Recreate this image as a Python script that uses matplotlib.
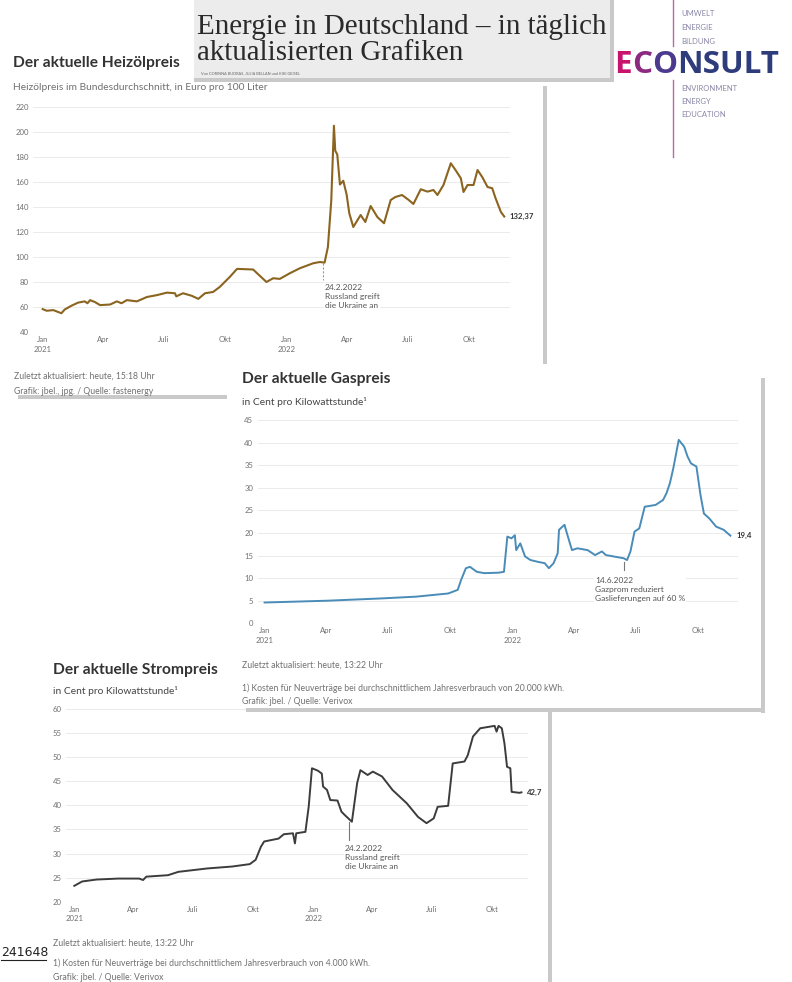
import matplotlib
matplotlib.use("Agg")
import matplotlib.pyplot as plt
from matplotlib.patches import Rectangle
import pandas as pd

W, H = 792, 982
BASE = pd.Timestamp("2021-01-01")

# Heizölpreis, Euro pro 100 Liter (days since 1.1.2021)
heizoel_day = [0, 6, 16, 28, 33, 43, 53, 63, 67, 71, 78, 86, 101, 111, 118, 126, 141,
               156, 171, 186, 198, 200, 210, 223, 233, 243, 255, 265, 280, 291, 315,
               335, 345, 355, 370, 385, 405, 415, 422, 427, 432, 436, 438, 441, 445,
               450, 455, 459, 465, 476, 483, 491, 501, 511, 521, 528, 538, 548, 555,
               566, 576, 585, 591, 600, 611, 618, 626, 630, 636, 645, 651, 658, 666,
               673, 678, 686, 691]
heizoel_val = [58.3, 57, 57.5, 55, 58, 61, 63.5, 64.5, 63, 65.5, 64, 61.5, 62, 64.5, 63,
               65.5, 64.5, 68, 69.5, 71.5, 71, 68.5, 71, 69, 66.5, 71, 72, 76, 84, 90.5,
               90, 80, 83, 82.5, 87, 91, 95, 96, 95.5, 108, 145, 205, 185, 182, 158,
               161, 150, 135, 124, 133.6, 128, 140.8, 132, 127, 145.6, 148, 149.6,
               145.6, 142.4, 154.2, 152.3, 153.6, 149.6, 157.6, 175, 169.6, 163, 152,
               157.6, 157.6, 169.6, 164, 156, 155, 147, 136, 132.37]

# Gaspreis, Cent pro kWh
gas_day = [0, 92, 171, 223, 270, 284, 289, 296, 302, 312, 323, 344, 352, 357, 363, 368,
           370, 376, 383, 391, 402, 412, 418, 425, 431, 433, 441, 446, 452, 460, 475,
           486, 496, 502, 528, 533, 538, 544, 551, 559, 575, 586, 591, 596, 601, 609,
           617, 622, 627, 635, 641, 646, 654, 664, 675, 685]
gas_val = [4.6, 5.0, 5.5, 5.9, 6.6, 7.4, 9.6, 12.2, 12.5, 11.4, 11.1, 11.2, 11.4, 19.2,
           18.8, 19.5, 16.2, 17.7, 14.8, 14.0, 13.6, 13.3, 12.2, 13.3, 15.5, 20.7, 21.8,
           19.2, 16.2, 16.6, 16.2, 15.1, 15.9, 15.1, 14.4, 14.0, 15.9, 20.3, 21.0, 25.8,
           26.2, 27.3, 28.8, 31.0, 34.3, 40.6, 39.1, 36.9, 35.4, 34.7, 28.4, 24.3, 23.2,
           21.4, 20.7, 19.4]

# Strompreis, Cent pro kWh
strom_day = [0, 12, 34, 67, 99, 105, 110, 143, 159, 203, 241, 268, 277, 285, 290, 301,
             312, 320, 334, 337, 339, 353, 358, 363, 372, 378, 380, 386, 391, 402, 408,
             413, 424, 432, 437, 448, 456, 470, 486, 508, 525, 538, 549, 555, 571, 578,
             596, 601, 609, 620, 642, 645, 648, 653, 657, 661, 666, 668, 680, 683]
strom_val = [23.3, 24.2, 24.6, 24.8, 24.8, 24.5, 25.2, 25.5, 26.2, 26.9, 27.3, 27.8, 28.7,
             31.4, 32.5, 32.8, 33.1, 34.0, 34.2, 32.1, 34.2, 34.5, 39.7, 47.7, 47.2, 46.6,
             43.9, 43.2, 41.1, 41.0, 38.7, 38.0, 36.6, 44.6, 47.3, 46.3, 47.0, 46.0, 43.2,
             40.4, 37.6, 36.3, 37.3, 39.7, 39.9, 48.7, 49.1, 50.4, 54.3, 56.0, 56.5, 55.3,
             56.5, 56.0, 52.9, 48.0, 47.7, 42.8, 42.6, 42.7]

tick_dates = ["2021-01-01", "2021-04-01", "2021-07-01", "2021-10-01",
              "2022-01-01", "2022-04-01", "2022-07-01", "2022-10-01"]
tick_labels = ["Jan\n2021", "Apr", "Juli", "Okt", "Jan\n2022", "Apr", "Juli", "Okt"]
tick_days = [(pd.Timestamp(d) - BASE).days for d in tick_dates]
invasion_day = (pd.Timestamp("2022-02-24") - BASE).days
gazprom_day = (pd.Timestamp("2022-06-14") - BASE).days

SANS = ["Lato", "DejaVu Sans"]
GREY = "#707070"
SHADOW = "#c9c9c9"
TITLE = 11.2
SUB = 7.4
FOOT = 6.2
NOTE = 6.0

fig = plt.figure(figsize=(W / 100, H / 100), dpi=100)


def layer(z):
    ax = fig.add_axes([0, 0, 1, 1], zorder=z)
    ax.set_xlim(0, W)
    ax.set_ylim(H, 0)
    ax.axis("off")
    ax.patch.set_visible(False)
    return ax


def chart(x0, y0, x1, y1, z, xlim, ylim, yticks):
    ax = fig.add_axes([x0 / W, 1 - y1 / H, (x1 - x0) / W, (y1 - y0) / H], zorder=z)
    ax.set_xlim(*xlim)
    ax.set_ylim(*ylim)
    ax.patch.set_visible(False)
    for s in ax.spines.values():
        s.set_visible(False)
    ax.set_yticks(yticks)
    ax.set_yticklabels([str(t) for t in yticks])
    for t in yticks:
        ax.axhline(t, color="#ebebeb", lw=0.7, zorder=0)
    ax.set_xticks(tick_days)
    ax.set_xticklabels(tick_labels)
    ax.tick_params(length=0, labelsize=5.6, labelcolor=GREY, pad=3)
    for lab in ax.get_xticklabels() + ax.get_yticklabels():
        lab.set_family(SANS)
    for lab in ax.get_xticklabels():
        lab.set_linespacing(1.4)
    return ax


def txt(ax, x, y, s, size=FOOT, color=GREY, weight="normal"):
    ax.text(x, y, s, fontsize=size, color=color, fontweight=weight,
            family=SANS, va="center", ha="left")


def note(ax, lay, x, y, s):
    # annotation drawn inside the chart (above its gridlines), placed in pixel coords
    ax.text(x, y, s, fontsize=NOTE, color="#555555", family=SANS, transform=lay.transData,
            va="top", ha="left", linespacing=1.35, zorder=5, clip_on=False,
            bbox=dict(facecolor="white", edgecolor="none", pad=0.5))


# ---------------- Heizöl panel ----------------
L1 = layer(1)
L1.add_patch(Rectangle((543, 86), 4, 290, color=SHADOW, lw=0))
L1.add_patch(Rectangle((18, 395), 230, 4, color=SHADOW, lw=0))
txt(L1, 13, 63, "Der aktuelle Heizölpreis", size=TITLE, color="#333333", weight="bold")
txt(L1, 13, 87, "Heizölpreis im Bundesdurchschnitt, in Euro pro 100 Liter", size=SUB)
txt(L1, 14, 376, "Zuletzt aktualisiert: heute, 15:18 Uhr")
txt(L1, 14, 391, "Grafik: jbel., jpg. / Quelle: fastenergy")

a1 = chart(33, 107, 510, 332, 2, (-14.5, 699.6), (40, 220), list(range(40, 221, 20)))
a1.plot(heizoel_day, heizoel_val, color="#8b6420", lw=1.5, solid_joinstyle="round")
a1.plot([invasion_day, invasion_day], [95, 82], color="#999999", lw=0.8, ls=(0, (2, 1.5)))
a1.text(699, heizoel_val[-1], "132,37", fontsize=5.6, fontweight="bold",
        color="#333333", family=SANS, va="center", ha="left")
note(a1, L1, 325, 284, "24.2.2022\nRussland greift\ndie Ukraine an")

# ---------------- Strom panel ----------------
L2 = layer(3)
L2.add_patch(Rectangle((36, 652), 512, 340, color="white", lw=0))
L2.add_patch(Rectangle((548, 712), 4, 280, color=SHADOW, lw=0))
txt(L2, 53, 670, "Der aktuelle Strompreis", size=TITLE, color="#333333", weight="bold")
txt(L2, 53, 691, "in Cent pro Kilowattstunde¹", size=SUB, color="#444444")
txt(L2, 53, 943, "Zuletzt aktualisiert: heute, 13:22 Uhr")
txt(L2, 53, 963, "1) Kosten für Neuverträge bei durchschnittlichem Jahresverbrauch von 4.000 kWh.")
txt(L2, 53, 977, "Grafik: jbel. / Quelle: Verivox")
L2.text(1, 952, "241648", fontsize=9, color="#222222", family="DejaVu Sans", va="center")
L2.plot([1, 46], [960, 960], color="#222222", lw=0.8)

a3 = chart(66, 709, 528, 901.7, 4, (-12.7, 693), (20, 60), list(range(20, 61, 5)))
a3.plot(strom_day, strom_val, color="#3c3c3c", lw=1.4, solid_joinstyle="round")
a3.plot([invasion_day, invasion_day], [36.5, 32.8], color="#777777", lw=0.8)
a3.text(691, strom_val[-1], "42,7", fontsize=5.6, fontweight="bold",
        color="#333333", family=SANS, va="center", ha="left")
note(a3, L2, 345, 845, "24.2.2022\nRussland greift\ndie Ukraine an")

# ---------------- Gas panel ----------------
L3 = layer(5)
L3.add_patch(Rectangle((227, 364), 534, 345, color="white", lw=0))
L3.add_patch(Rectangle((761, 378), 4, 335, color=SHADOW, lw=0))
L3.add_patch(Rectangle((246, 708), 519, 4, color=SHADOW, lw=0))
txt(L3, 242, 379, "Der aktuelle Gaspreis", size=TITLE, color="#333333", weight="bold")
txt(L3, 242, 402, "in Cent pro Kilowattstunde¹", size=SUB, color="#444444")
txt(L3, 242, 665, "Zuletzt aktualisiert: heute, 13:22 Uhr")
txt(L3, 242, 688, "1) Kosten für Neuverträge bei durchschnittlichem Jahresverbrauch von 20.000 kWh.")
txt(L3, 242, 701, "Grafik: jbel. / Quelle: Verivox")

a2 = chart(257.5, 420, 737.9, 623.3, 6, (-10.4, 696), (0, 45), list(range(0, 46, 5)))
a2.plot(gas_day, gas_val, color="#4a8cb8", lw=1.4, solid_joinstyle="round")
a2.plot([gazprom_day, gazprom_day], [13.6, 11.8], color="#777777", lw=0.8)
a2.text(694, gas_val[-1], "19,4", fontsize=5.6, fontweight="bold",
        color="#333333", family=SANS, va="center", ha="left")
note(a2, L3, 595, 577, "14.6.2022\nGazprom reduziert\nGaslieferungen auf 60 %")

# ---------------- Header & logo ----------------
L4 = layer(7)
L4.add_patch(Rectangle((194, -2), 416, 80, color="#ececec", lw=0))
L4.add_patch(Rectangle((610, -2), 4, 84, color=SHADOW, lw=0))
L4.add_patch(Rectangle((194, 78), 420, 4, color=SHADOW, lw=0))
SERIF = ["Liberation Serif", "DejaVu Serif"]
L4.text(197, 27, "Energie in Deutschland – in täglich", fontsize=20.9, color="#2a2a2a",
        family=SERIF, va="center")
L4.text(197, 53, "aktualisierten Grafiken", fontsize=20.9, color="#2a2a2a",
        family=SERIF, va="center")
L4.text(201, 73, "Von CORINNA BUDRAS, JULIA BELLAN und KIKI GEISEL", fontsize=2.8,
        color="#666666", family=SANS, va="center")

L4.plot([673, 673], [0, 46], color="#b96aa8", lw=1.0)
L4.plot([673, 673], [80, 157], color="#b96aa8", lw=1.0)
for i, s in enumerate(["UMWELT", "ENERGIE", "BILDUNG"]):
    L4.text(681, 13 + 14 * i, s, fontsize=5.5, color="#8a88a8", family=SANS, va="center")
for i, s in enumerate(["ENVIRONMENT", "ENERGY", "EDUCATION"]):
    L4.text(681, 88 + 13 * i, s, fontsize=5.5, color="#8a88a8", family=SANS, va="center")

logo_parts = ["E", "C", "O", "NSULT"]
logo_col = ["#c8136c", "#8c2a82", "#4b3a8e", "#2e3c7c"]
logo_font = ["Open Sans", "DejaVu Sans"]
renderer = fig.canvas.get_renderer()
probe = L4.text(0, 0, "ECONSULT", fontsize=20, fontweight="bold", family=logo_font)
logo_size = 20 * 164 / probe.get_window_extent(renderer).width
probe.remove()
x = 614
for s, c in zip(logo_parts, logo_col):
    t = L4.text(x, 65, s, fontsize=logo_size, fontweight="bold", color=c,
                family=logo_font, va="center")
    x += t.get_window_extent(renderer).width

fig.savefig("out.png", dpi=100)
